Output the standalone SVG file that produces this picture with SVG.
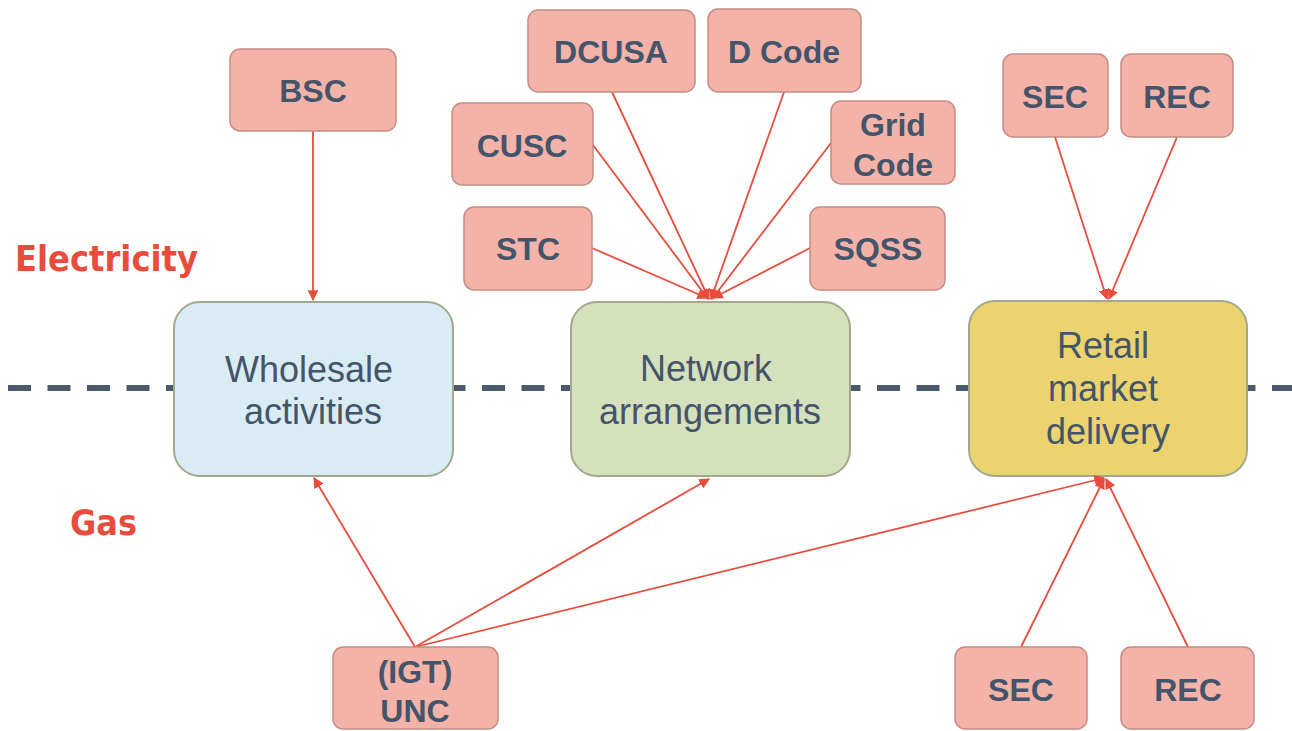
<svg xmlns="http://www.w3.org/2000/svg" width="1292" height="731" viewBox="0 0 1292 731">
  <style>
    .code rect { fill: #f4b3a8; stroke: #c48c84; stroke-width: 1.5; }
    .code text { font-family: "Liberation Sans", Arial, sans-serif; font-weight: bold; font-size: 32px; fill: #44546a; text-anchor: middle; }
    .area text { font-family: "Liberation Sans", Arial, sans-serif; font-size: 36px; fill: #44546a; text-anchor: middle; }
    .area rect { stroke: #a3a88c; stroke-width: 2; }
    .side { font-family: "DejaVu Sans", Verdana, sans-serif; font-weight: bold; font-size: 35px; fill: #e84c3d; }
    .conn line { stroke: #e84c3d; stroke-width: 1.8; marker-end: url(#arrow); }
  </style>
  <defs>
    <marker id="arrow" viewBox="0 0 10 10" refX="9" refY="5" markerWidth="6" markerHeight="6" orient="auto" markerUnits="strokeWidth">
      <path d="M0,0 L10,5 L0,10 z" fill="#e84c3d"/>
    </marker>
  </defs>
  <rect width="1292" height="731" fill="#ffffff"/>

  <!-- boundary between electricity and gas -->
  <line x1="8" y1="388" x2="1292" y2="388" stroke="#4a5a6c" stroke-width="6" stroke-dasharray="23 16.5"/>

  <text class="side" x="15" y="271" textLength="183" lengthAdjust="spacingAndGlyphs">Electricity</text>
  <text class="side" x="70" y="535" textLength="67" lengthAdjust="spacingAndGlyphs">Gas</text>

  <!-- main areas -->
  <g id="wholesale" class="area">
    <rect x="174" y="302" width="279" height="174" rx="26" fill="#d9ecf3"/>
    <text x="309" y="382">Wholesale</text>
    <text x="313" y="424">activities</text>
  </g>
  <g id="network" class="area">
    <rect x="571" y="302" width="279" height="174" rx="26" fill="#d5e0bc"/>
    <text x="706" y="381">Network</text>
    <text x="710" y="424">arrangements</text>
  </g>
  <g id="retail" class="area">
    <rect x="969" y="301" width="278" height="175" rx="26" fill="#ebd46f"/>
    <text x="1103" y="358">Retail</text>
    <text x="1103" y="401">market</text>
    <text x="1108" y="444">delivery</text>
  </g>

  <!-- connectors -->
  <g id="connectors" class="conn">
    <line x1="313" y1="131" x2="313" y2="300"/>
    <line x1="612" y1="92" x2="709" y2="299"/>
    <line x1="784" y1="92" x2="711" y2="299"/>
    <line x1="593" y1="145" x2="708" y2="299"/>
    <line x1="831" y1="143" x2="712" y2="299"/>
    <line x1="592" y1="248" x2="707" y2="298"/>
    <line x1="810" y1="248" x2="713" y2="298"/>
    <line x1="1055" y1="137" x2="1107" y2="299"/>
    <line x1="1177" y1="137" x2="1109" y2="299"/>
    <line x1="415" y1="647" x2="314" y2="478"/>
    <line x1="415" y1="647" x2="709" y2="479"/>
    <line x1="415" y1="647" x2="1104" y2="478"/>
    <line x1="1021" y1="647" x2="1104" y2="479"/>
    <line x1="1188" y1="647" x2="1106" y2="479"/>
  </g>

  <!-- electricity codes -->
  <g id="bsc" class="code">
    <rect x="230" y="49" width="166" height="82" rx="10"/>
    <text x="313" y="102">BSC</text>
  </g>
  <g id="dcusa" class="code">
    <rect x="528" y="10" width="167" height="82" rx="10"/>
    <text x="611" y="63">DCUSA</text>
  </g>
  <g id="dcode" class="code">
    <rect x="708" y="9" width="153" height="83" rx="10"/>
    <text x="784" y="63">D Code</text>
  </g>
  <g id="cusc" class="code">
    <rect x="452" y="103" width="141" height="82" rx="10"/>
    <text x="522" y="157">CUSC</text>
  </g>
  <g id="gridcode" class="code">
    <rect x="831" y="101" width="124" height="83" rx="10"/>
    <text x="893" y="136">Grid</text>
    <text x="893" y="176">Code</text>
  </g>
  <g id="stc" class="code">
    <rect x="464" y="207" width="128" height="83" rx="10"/>
    <text x="528" y="260">STC</text>
  </g>
  <g id="sqss" class="code">
    <rect x="810" y="207" width="135" height="83" rx="10"/>
    <text x="878" y="260">SQSS</text>
  </g>
  <g id="sec-elec" class="code">
    <rect x="1003" y="54" width="105" height="83" rx="10"/>
    <text x="1055" y="108">SEC</text>
  </g>
  <g id="rec-elec" class="code">
    <rect x="1121" y="54" width="112" height="83" rx="10"/>
    <text x="1177" y="108">REC</text>
  </g>

  <!-- gas codes -->
  <g id="unc" class="code">
    <rect x="333" y="647" width="165" height="82" rx="10"/>
    <text x="415" y="683">(IGT)</text>
    <text x="415" y="722">UNC</text>
  </g>
  <g id="sec-gas" class="code">
    <rect x="955" y="647" width="132" height="82" rx="10"/>
    <text x="1021" y="701">SEC</text>
  </g>
  <g id="rec-gas" class="code">
    <rect x="1121" y="647" width="133" height="82" rx="10"/>
    <text x="1188" y="701">REC</text>
  </g>
</svg>
